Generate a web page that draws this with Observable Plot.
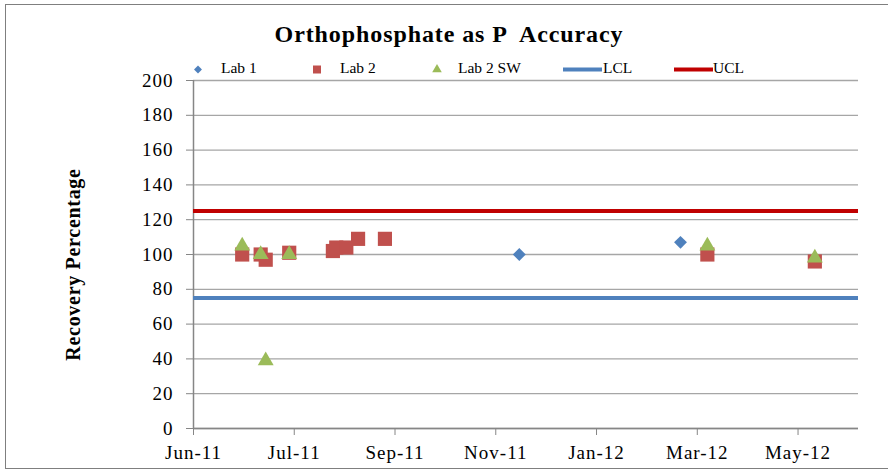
<!DOCTYPE html>
<html><head><meta charset="utf-8">
<script src="https://cdn.jsdelivr.net/npm/d3@7"></script>
<script src="https://cdn.jsdelivr.net/npm/@observablehq/plot@0.6"></script>
<style>
body{margin:0;background:#fff;}
#wrap{position:relative;width:888px;height:470px;overflow:hidden;background:#fff;}
#frame{position:absolute;left:5px;top:4px;width:900px;height:463px;border:1px solid #7f7f7f;pointer-events:none;}
#overlay{position:absolute;left:0;top:0;pointer-events:none;font-family:"Liberation Serif",serif;}
#chart{position:absolute;left:0;top:0;}
#chart svg text{font-family:"Liberation Serif",serif;}
#chart g[aria-label="x-axis tick label"] text,
#chart g[aria-label="y-axis tick label"] text{letter-spacing:1px;}
#chart g[aria-label="text"] text{letter-spacing:0.7px;}
</style>
</head><body>
<div id="wrap">
  <div id="chart"></div>
  <svg id="overlay" width="888" height="470"></svg>
  <div id="frame"></div>
</div>
<script>
// ---- data ----
const chartTitle = "Orthophosphate as P  Accuracy";
const yTitle = "Recovery Percentage";
const seriesNames = ["Lab 1", "Lab 2", "Lab 2 SW", "LCL", "UCL"];
const seriesColors = ["#4F81BD", "#C0504D", "#9BBB59", "#4F81BD", "#C00000"];

const lab1Dates = ["2011-12-12", "2012-03-17"];
const lab1Values = [100, 107];

const lab2Dates = ["2011-06-30", "2011-07-11", "2011-07-14", "2011-07-28", "2011-08-23", "2011-08-25", "2011-08-31", "2011-09-07", "2011-09-23", "2012-04-02", "2012-06-05"];
const lab2Values = [100, 100, 97, 101, 102, 104, 104, 109, 109, 100, 96];

const lab2swDates = ["2011-06-30", "2011-07-11", "2011-07-14", "2011-07-28", "2012-04-02", "2012-06-05"];
const lab2swValues = [105, 100, 39, 100, 105, 98];

const lclValue = 75;
const uclValue = 125;

const xStart = "2011-06-01";
const xEnd = "2012-07-01";
const xTickStepDays = 60;
const xTickCount = 7;
const yTicks = [0, 20, 40, 60, 80, 100, 120, 140, 160, 180, 200];

// ---- build ----
const parse = s => new Date(s + "T00:00:00Z");
const rows = (dates, values) => dates.map((d, i) => ({date: parse(d), value: values[i]}));
const lab1 = rows(lab1Dates, lab1Values);
const lab2 = rows(lab2Dates, lab2Values);
const lab2sw = rows(lab2swDates, lab2swValues);
const x0 = parse(xStart), x1 = parse(xEnd);
const xTicks = d3.range(xTickCount).map(k => d3.utcDay.offset(x0, k * xTickStepDays));
const axisGray = "#868686";
const serif = "Liberation Serif, serif";

const chart = Plot.plot({
  width: 888, height: 470,
  marginLeft: 193, marginRight: 30, marginTop: 80, marginBottom: 42,
  style: {fontFamily: serif, fontSize: "19px", color: "#000", background: "transparent", overflow: "visible"},
  x: {type: "utc", domain: [x0, x1]},
  y: {domain: [0, 200]},
  marks: [
    Plot.gridY(yTicks, {stroke: "#a6a6a6", strokeOpacity: 1, strokeWidth: 1.3}),
    Plot.ruleX([x0], {stroke: axisGray, strokeWidth: 1.5}),
    Plot.ruleY([0], {stroke: axisGray, strokeWidth: 1.5}),
    Plot.axisY(yTicks, {tickSize: 7, tickPadding: 13, stroke: axisGray, fill: "#000", fontSize: 19, fontFamily: serif, label: null}),
    Plot.axisX(xTicks, {tickSize: 7, tickPadding: 10, tickFormat: d3.utcFormat("%b-%y"), stroke: axisGray, fill: "#000", fontSize: 19, fontFamily: serif, label: null}),
    Plot.dot(lab1, {x: "date", y: "value", symbol: "diamond2", r: 5.8, fill: seriesColors[0], stroke: null}),
    Plot.dot(lab2, {x: "date", y: "value", symbol: "square", r: 8, fill: seriesColors[1], stroke: null}),
    Plot.dot(lab2sw, {x: "date", y: "value", symbol: "triangle", r: 5.9, fill: seriesColors[2], stroke: null}),
    Plot.ruleY([lclValue], {stroke: seriesColors[3], strokeWidth: 4}),
    Plot.ruleY([uclValue], {stroke: seriesColors[4], strokeWidth: 4}),
    Plot.text([yTitle], {frameAnchor: "left", textAnchor: "middle", dx: -120, dy: 10, rotate: -90, fontWeight: "bold", fontSize: 20, fontFamily: serif, fill: "#000"})
  ]
});
document.getElementById("chart").appendChild(chart);

// ---- title + legend overlay ----
const ov = d3.select("#overlay");
ov.append("text").attr("x", 449).attr("y", 42).attr("text-anchor", "middle")
  .attr("font-weight", "bold").attr("font-size", 24).style("white-space", "pre").style("letter-spacing", "0.9px")
  .text(chartTitle);

const legendY = 69.5;
const legendItems = [
  {sym: "diamond", x: 198, tx: 221},
  {sym: "square", x: 317, tx: 340},
  {sym: "triangle", x: 437, tx: 458},
  {sym: "line", x: 563, tx: 603},
  {sym: "line", x: 674, tx: 713}
];
legendItems.forEach((it, i) => {
  const c = seriesColors[i];
  if (it.sym === "line") {
    ov.append("line").attr("x1", it.x).attr("x2", it.x + 39).attr("y1", legendY).attr("y2", legendY)
      .attr("stroke", c).attr("stroke-width", 4);
  } else {
    const type = it.sym === "diamond" ? d3.symbolDiamond2 : it.sym === "square" ? d3.symbolSquare : d3.symbolTriangle;
    const size = it.sym === "diamond" ? 40 : it.sym === "square" ? 64 : 40;
    ov.append("path").attr("transform", `translate(${it.x},${legendY})`)
      .attr("d", d3.symbol(type, size)()).attr("fill", c);
  }
  ov.append("text").attr("x", it.tx).attr("y", 72.5).attr("font-size", 15.5).text(seriesNames[i]);
});
</script>
</body></html>
